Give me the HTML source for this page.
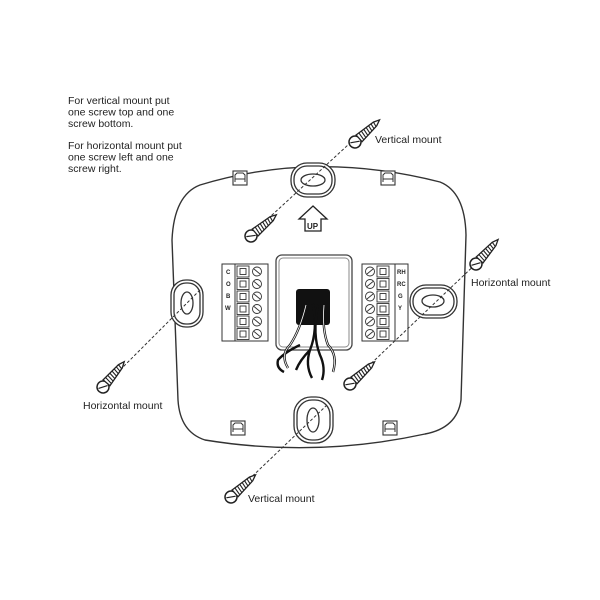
<!DOCTYPE html><html><head><style>body{margin:0;background:#fff}svg{display:block}text{font-family:"Liberation Sans",sans-serif;fill:#222}</style></head><body>
<svg width="600" height="600" viewBox="0 0 600 600">
<defs>
<g id="screw"><circle cx="0" cy="0" r="6" fill="#fff" stroke="#222" stroke-width="1.5"/><line x1="-4" y1="-2.5" x2="4" y2="2.5" stroke="#222" stroke-width="1.2"/><path d="M5.5,-4.5 L27,-2.5 L33,0 L27,2.5 L5.5,4.5Z" fill="#fff" stroke="#222" stroke-width="1.3"/><path d="M9,-4.3 l-1,8.6 M12,-4 l-1,8 M15,-3.7 l-1,7.4 M18,-3.4 l-1,6.8 M21,-3.1 l-1,6.2 M24,-2.8 l-1,5.6 M27,-2.4 l-1,4.8" stroke="#222" stroke-width="1.1"/></g>
<g id="tab"><rect x="-7" y="-7" width="14" height="14" fill="#fff" stroke="#333" stroke-width="1.1"/><path d="M-5,4 L-5,-3 L-3,-5 L3,-5 L5,-3 L5,4 M-5,1 L5,1" fill="none" stroke="#333"/></g>
</defs>
<g font-size="10.5">
<text x="68" y="104">For vertical mount put</text>
<text x="68" y="115.5">one screw top and one</text>
<text x="68" y="127">screw bottom.</text>
<text x="68" y="149">For horizontal mount put</text>
<text x="68" y="160.5">one screw left and one</text>
<text x="68" y="172">screw right.</text>
</g>
<path d="M200,185 Q315,150 440,182 Q465,192 466,235 L461,400 Q457,428 425,434 Q315,458 205,440 Q180,432 178,400 L172,240 Q174,195 200,185Z" fill="#fff" stroke="#333" stroke-width="1.4"/>
<use href="#tab" x="240" y="178"/><use href="#tab" x="388" y="178"/><use href="#tab" x="238" y="428"/><use href="#tab" x="390" y="428"/>
<g fill="#fff" stroke="#333" stroke-width="1.3">
<rect x="291" y="163" width="44" height="34" rx="16"/><rect x="294" y="166" width="38" height="28" rx="13"/><ellipse cx="313" cy="180" rx="12" ry="6"/>
<rect x="171" y="280" width="32" height="47" rx="15"/><rect x="174" y="283" width="26" height="41" rx="12"/><ellipse cx="187" cy="303" rx="6" ry="11"/>
<rect x="410" y="285" width="47" height="33" rx="16"/><rect x="413" y="288" width="41" height="27" rx="13"/><ellipse cx="433" cy="301" rx="11" ry="6"/>
<rect x="294" y="397" width="39" height="46" rx="17"/><rect x="297" y="400" width="33" height="40" rx="15"/><ellipse cx="313" cy="420" rx="6" ry="12"/>
</g>
<path d="M313,206 L327,219 L321,219 L321,231 L305,231 L305,219 L299,219Z" fill="#fff" stroke="#222" stroke-width="1.3"/>
<text x="307" y="229" font-size="8" font-weight="bold">UP</text>
<rect x="276" y="255" width="76" height="95" rx="6" fill="#fff" stroke="#444" stroke-width="1.3"/>
<rect x="279" y="258" width="70" height="89" rx="4" fill="none" stroke="#888"/>
<rect x="296" y="289" width="34" height="36" rx="3" fill="#111"/>
<g fill="none" stroke="#111" stroke-width="2.4">
<path d="M306,305 Q300,330 290,345 Q280,355 288,368"/><path d="M313,304 Q318,330 310,350 Q305,365 312,378"/><path d="M318,305 Q312,335 320,355 Q326,368 322,380"/><path d="M324,305 Q322,330 328,345 Q338,355 333,372"/><path d="M300,345 Q285,352 278,360 Q276,368 284,372"/><path d="M310,350 Q300,360 296,370"/>
</g>
<g fill="none" stroke="#fff" stroke-width="0.8">
<path d="M306,305 Q300,330 290,345 Q280,355 288,368"/><path d="M324,305 Q322,330 328,345 Q338,355 333,372"/>
</g>
<g stroke="#333" fill="#fff" stroke-width="1">
<rect x="222" y="264" width="46" height="77"/><line x1="235" y1="264" x2="235" y2="341"/>
<rect x="362" y="264" width="46" height="77"/><line x1="395" y1="264" x2="395" y2="341"/>
</g>
<g stroke="#333" fill="#fff" stroke-width="0.9">
<g id="row"><rect x="237" y="266" width="12" height="11"/><rect x="240" y="268.5" width="6" height="6"/><circle cx="257" cy="271.5" r="4.5"/><line x1="254" y1="269" x2="260" y2="274"/></g>
<use href="#row" y="12.5"/><use href="#row" y="25"/><use href="#row" y="37.5"/><use href="#row" y="50"/><use href="#row" y="62.5"/>
<g id="rowr"><circle cx="370" cy="271.5" r="4.5"/><line x1="367" y1="274" x2="373" y2="269"/><rect x="377" y="266" width="12" height="11"/><rect x="380" y="268.5" width="6" height="6"/></g>
<use href="#rowr" y="12.5"/><use href="#rowr" y="25"/><use href="#rowr" y="37.5"/><use href="#rowr" y="50"/><use href="#rowr" y="62.5"/>
</g>
<g font-size="6" font-weight="bold">
<text x="226" y="274">C</text><text x="226" y="286">O</text><text x="226" y="298">B</text><text x="225" y="310">W</text>
<text x="397" y="274">RH</text><text x="397" y="286">RC</text><text x="398" y="298">G</text><text x="398" y="310">Y</text>
</g>
<g stroke="#333" stroke-width="1" stroke-dasharray="3,2" fill="none">
<line x1="362" y1="132" x2="258" y2="228"/>
<line x1="482" y1="258" x2="358" y2="376"/>
<line x1="200" y1="290" x2="110" y2="380"/>
<line x1="327" y1="405" x2="240" y2="488"/>
</g>
<use href="#screw" transform="translate(355,142) rotate(-42)"/>
<use href="#screw" transform="translate(476,264) rotate(-48)"/>
<use href="#screw" transform="translate(251,236) rotate(-40)"/>
<use href="#screw" transform="translate(103,387) rotate(-50)"/>
<use href="#screw" transform="translate(350,384) rotate(-42)"/>
<use href="#screw" transform="translate(231,497) rotate(-42)"/>
<g font-size="10.5">
<text x="375" y="143">Vertical mount</text>
<text x="471" y="286">Horizontal mount</text>
<text x="83" y="409">Horizontal mount</text>
<text x="248" y="502">Vertical mount</text>
</g>
</svg></body></html>
